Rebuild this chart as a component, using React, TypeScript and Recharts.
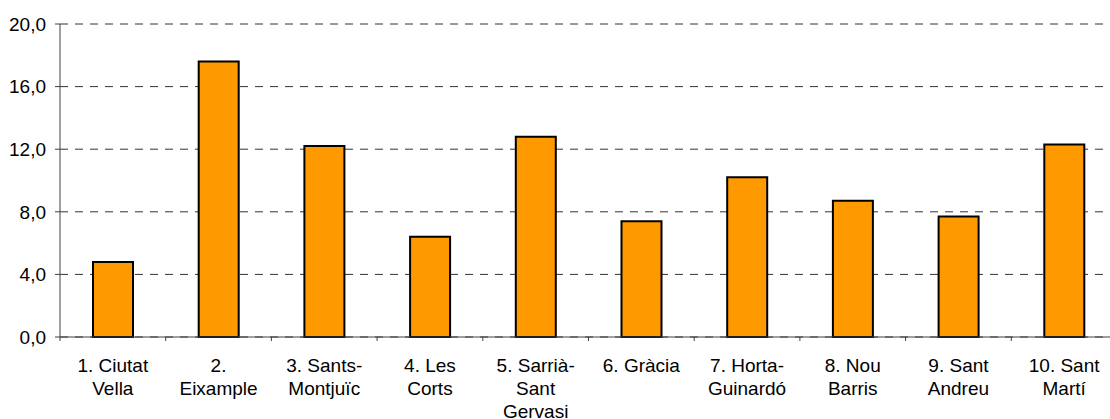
import React from "react";
import { BarChart, Bar, XAxis, YAxis, CartesianGrid } from "recharts";

// districts of Barcelona, "\n" marks the line breaks under the axis
const districts = [
  "1. Ciutat\nVella",
  "2.\nEixample",
  "3. Sants-\nMontjuïc",
  "4. Les\nCorts",
  "5. Sarrià-\nSant\nGervasi",
  "6. Gràcia",
  "7. Horta-\nGuinardó",
  "8. Nou\nBarris",
  "9. Sant\nAndreu",
  "10. Sant\nMartí",
];

const values = [4.8, 17.6, 12.2, 6.4, 12.8, 7.4, 10.2, 8.7, 7.7, 12.3];

const yTicks = [0, 4, 8, 12, 16, 20];

const data = districts.map((name, i) => ({ name, value: values[i] }));

const FONT = "'Liberation Sans', Arial, sans-serif";
const AXIS = "#404040";

// label under the bar plus the small tick marks on the category boundaries
const DistrictTick = (props: any) => {
  const { x, y, payload, index } = props;
  const half = payload.offset ?? 0;
  const lines = String(payload.value).split("\n");
  return (
    <g>
      <line x1={x - half} y1={y} x2={x - half} y2={y + 4} stroke={AXIS} />
      {index === districts.length - 1 && (
        <line x1={x + half} y1={y} x2={x + half} y2={y + 4} stroke={AXIS} />
      )}
      <text x={x} y={y + 35} textAnchor="middle" fontFamily={FONT} fontSize={19} fill="#000">
        {lines.map((l, i) => (
          <tspan key={i} x={x} dy={i === 0 ? 0 : 23}>
            {l}
          </tspan>
        ))}
      </text>
    </g>
  );
};

export default function App() {
  return (
    <div
      style={{
        position: "absolute",
        left: 0,
        top: 0,
        width: 1110,
        height: 419,
        overflow: "hidden",
        background: "#fff",
      }}
    >
      <BarChart
        width={1120}
        height={419}
        data={data}
        margin={{ top: 24, right: 3, left: 0, bottom: 0 }}
      >
        <CartesianGrid vertical={false} stroke="#333" strokeDasharray="8 7" />
        <XAxis
          dataKey="name"
          interval={0}
          height={82}
          tickSize={0}
          tickMargin={0}
          tickLine={false}
          tick={<DistrictTick />}
          axisLine={{ stroke: AXIS }}
        />
        <YAxis
          width={60}
          domain={[0, 20]}
          ticks={yTicks}
          interval={0}
          tickSize={5}
          tickMargin={9}
          tickLine={{ stroke: AXIS }}
          axisLine={{ stroke: AXIS }}
          tickFormatter={(v: number) => v.toFixed(1).replace(".", ",")}
          tick={{ fontFamily: FONT, fontSize: 19, fill: "#000" }}
        />
        <Bar
          dataKey="value"
          barSize={40}
          fill="#FF9900"
          stroke="#000"
          strokeWidth={2}
          isAnimationActive={false}
        />
      </BarChart>
    </div>
  );
}
